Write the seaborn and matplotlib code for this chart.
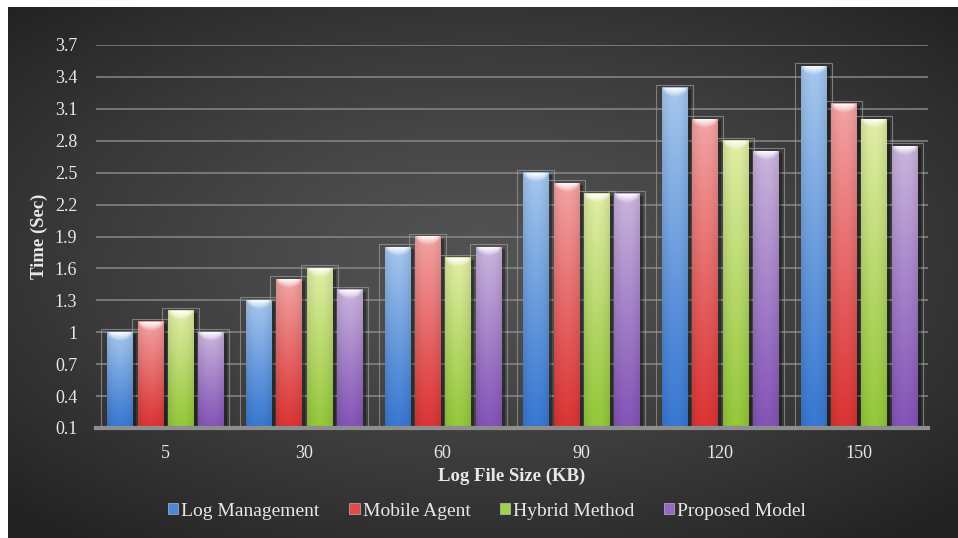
import numpy as np
import pandas as pd
import matplotlib
matplotlib.use("Agg")
import matplotlib.pyplot as plt
import seaborn as sns
from matplotlib.patches import Rectangle, Patch
from matplotlib.colors import to_rgb

# ---- data -------------------------------------------------------------
sizes = ["5", "30", "60", "90", "120", "150"]
methods = ["Log Management", "Mobile Agent", "Hybrid Method", "Proposed Model"]
log_management = [1.0, 1.3, 1.8, 2.5, 3.3, 3.5]
mobile_agent = [1.1, 1.5, 1.9, 2.4, 3.0, 3.15]
hybrid_method = [1.2, 1.6, 1.7, 2.3, 2.8, 3.0]
proposed_model = [1.0, 1.4, 1.8, 2.3, 2.7, 2.75]
y_ticks = [0.1, 0.4, 0.7, 1, 1.3, 1.6, 1.9, 2.2, 2.5, 2.8, 3.1, 3.4, 3.7]
y_tick_labels = ["0.1", "0.4", "0.7", "1", "1.3", "1.6", "1.9", "2.2",
                 "2.5", "2.8", "3.1", "3.4", "3.7"]

# ---- styling ----------------------------------------------------------
# (light top colour, saturated bottom colour) for each series
bar_colors = {
    "Log Management": ("#a6c8ee", "#3878d2"),
    "Mobile Agent": ("#f4a4a4", "#dc3434"),
    "Hybrid Method": ("#e2eea6", "#94c83a"),
    "Proposed Model": ("#cbb6de", "#8454b8"),
}
legend_colors = {"Log Management": "#4a88d8", "Mobile Agent": "#e04a4a",
                 "Hybrid Method": "#a2d04e", "Proposed Model": "#9468c4"}
text_color = "#e8e8e8"
font = "Liberation Serif"

sns.set_theme(style="white")
plt.rcParams["font.family"] = [font, "DejaVu Serif"]

df = pd.DataFrame({
    "size": sizes * 4,
    "time": log_management + mobile_agent + hybrid_method + proposed_model,
    "method": np.repeat(methods, len(sizes)),
})

W, H = 958, 538
fig = plt.figure(figsize=(W / 100, H / 100), dpi=100, facecolor="white")

# dark radial backdrop
bg = fig.add_axes([8 / W, 0, (W - 8) / W, (H - 7) / H], zorder=0)
gx, gy = np.meshgrid(np.linspace(-1, 1, 400), np.linspace(-1, 1, 240))
r = np.sqrt((gx * 1.0) ** 2 + ((gy + 0.05) * 1.05) ** 2) / np.sqrt(2)
val = 0.325 - 0.19 * np.clip(r, 0, 1) ** 1.3
bg.imshow(np.dstack([val, val, val]), extent=(0, 1, 0, 1), aspect="auto",
          interpolation="bicubic")
bg.set_axis_off()

ax = fig.add_axes([96 / W, (H - 428) / H, 832 / W, 383 / H], zorder=1)
ax.set_facecolor("none")

sns.barplot(data=df, x="size", y="time", hue="method", order=sizes,
            hue_order=methods, palette=legend_colors, width=0.875, gap=0.17,
            saturation=1, legend=False, ax=ax, zorder=3)

ax.set_ylim(0.1, 3.7)
ax.set_xlim(-0.5, len(sizes) - 0.5)
ax.set_yticks(y_ticks)
ax.set_yticklabels(y_tick_labels)

ax.yaxis.grid(True, color="#888888", lw=1.1, zorder=1)
ax.set_axisbelow(True)
for s in ["top", "right", "left"]:
    ax.spines[s].set_visible(False)
ax.spines["bottom"].set_color("#8e8e8e")
ax.spines["bottom"].set_linewidth(3)
ax.spines["bottom"].set_zorder(6)
ax.tick_params(axis="both", length=0, colors=text_color, labelsize=13)
ax.tick_params(axis="y", pad=13.5)
ax.tick_params(axis="x", pad=12)

# px -> data conversions
px_x = (len(sizes)) / 832.0
px_y = (3.7 - 0.1) / 383.0


def bar_image(top, bottom, n=120, m=40):
    t = np.linspace(0, 1, n)[:, None] ** 1.1           # 0 bottom -> 1 top
    top = np.array(to_rgb(top)); bottom = np.array(to_rgb(bottom))
    img = bottom[None, None, :] + (top - bottom)[None, None, :] * t[..., None]
    u = np.linspace(0, 1, m)[None, :]
    shade = 1 - 0.10 * np.abs(2 * u - 1) ** 2
    img = img * shade[..., None]
    return np.clip(img[::-1], 0, 1)                     # row 0 at top


def cap_image(n=24, m=40):
    d = np.linspace(0, 1, n)[:, None]
    u = np.linspace(0, 1, m)[None, :]
    limit = 0.35 + 0.65 * (1 - (2 * u - 1) ** 2)
    alpha = np.clip((limit - d) / limit, 0, 1) ** 0.8 * 0.95
    edge = np.clip(1 - np.abs(2 * u - 1) ** 6, 0, 1)
    alpha = alpha * edge
    img = np.ones((n, m, 4))
    img[..., 3] = alpha
    return img


for container, method in zip(ax.containers, methods):
    top_c, bot_c = bar_colors[method]
    grad = bar_image(top_c, bot_c)
    cap = cap_image()
    for patch in container.patches:
        x0 = patch.get_x()
        w = patch.get_width()
        top = patch.get_y() + patch.get_height()
        y0 = 0.1
        patch.set_facecolor("none")
        patch.set_edgecolor("none")
        # soft shadow on the right of each bar
        ax.add_patch(Rectangle((x0 + w, y0), 4 * px_x, top - y0 - 2 * px_y,
                               facecolor="black", alpha=0.35, lw=0, zorder=2))
        # thin frame around each bar
        ax.add_patch(Rectangle((x0 - 6 * px_x, y0), w + 12 * px_x,
                               top - y0 + 3 * px_y, facecolor="none",
                               edgecolor="#9a9a9a", lw=0.8, alpha=0.7,
                               zorder=2.5))
        ax.imshow(grad, extent=(x0, x0 + w, y0, top), aspect="auto",
                  interpolation="bilinear", zorder=4)
        ax.imshow(cap, extent=(x0, x0 + w, top - 9 * px_y, top),
                  aspect="auto", interpolation="bilinear", zorder=5)

ax.set_ylim(0.1, 3.7)
ax.set_xlim(-0.5, len(sizes) - 0.5)

ax.set_xlabel("Log File Size (KB)", fontsize=13.5, fontweight="bold",
              color=text_color)
ax.set_ylabel("Time (Sec)", fontsize=13.5, fontweight="bold", color=text_color)
ax.xaxis.set_label_coords(0.5, (428 - 476) / 383)
ax.xaxis.label.set_va("center")
ax.yaxis.set_label_coords((39 - 96) / 832, 0.5)
ax.yaxis.label.set_va("center")

handles = [Patch(facecolor=legend_colors[m], edgecolor="#cfcfcf", lw=0.4,
                 label=m) for m in methods]
leg = fig.legend(handles=handles, loc="center", ncol=4, frameon=False,
                 bbox_to_anchor=(487 / W, 1 - 511 / H), fontsize=14,
                 handlelength=0.55, handleheight=0.55, handletextpad=0.15,
                 columnspacing=1.5)
for t in leg.get_texts():
    t.set_color(text_color)

fig.savefig("out.png", dpi=100, facecolor="white")
